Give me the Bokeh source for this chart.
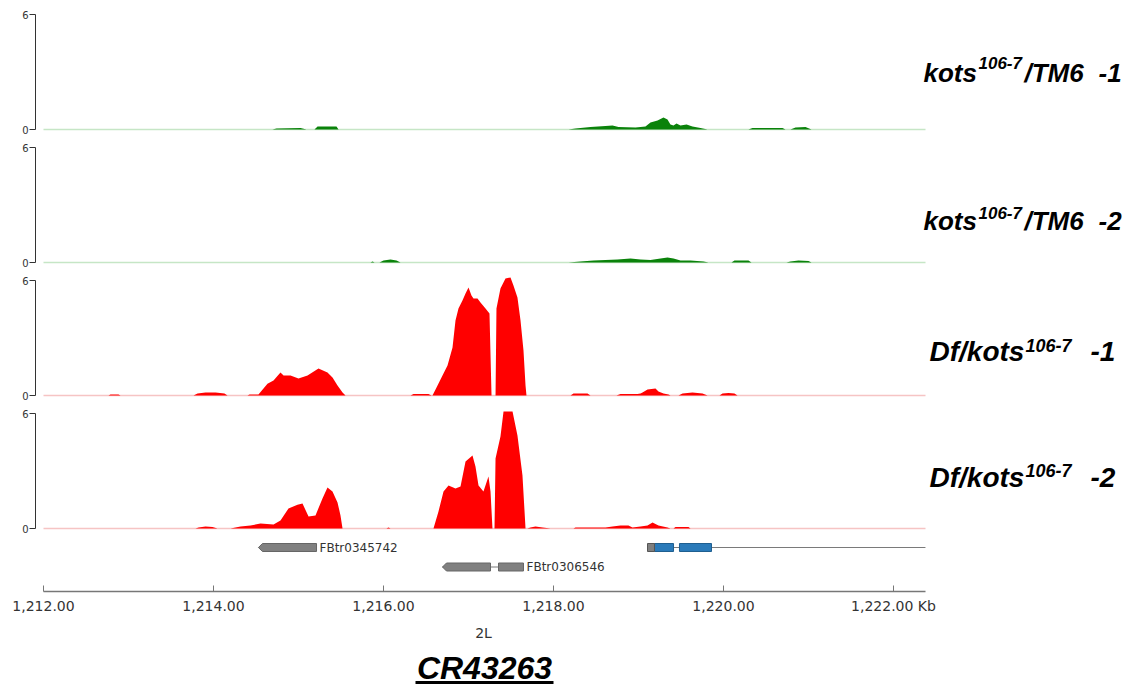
from bokeh.plotting import figure
from bokeh.layouts import column
from bokeh.models import Range1d, FixedTicker
from bokeh.core.properties import value
from bokeh.embed import file_html
from bokeh.resources import INLINE

# ---------------- data (positions in kb on chromosome 2L, coverage values) ----------------
t1_pos = [1214.694, 1214.741, 1215.024, 1215.094,
          1215.188, 1215.224, 1215.447, 1215.471,
          1218.176, 1218.259, 1218.435, 1218.612, 1218.694, 1218.765, 1218.965, 1219.082, 1219.141, 1219.224,
          1219.294, 1219.341, 1219.376, 1219.412, 1219.447, 1219.494, 1219.565, 1219.635, 1219.729, 1219.812,
          1220.294, 1220.341, 1220.694, 1220.729,
          1220.788, 1220.847, 1220.965, 1221.035]
t1_cov = [0, 0.05, 0.08, 0,
          0, 0.16, 0.16, 0,
          0, 0.05, 0.13, 0.18, 0.21, 0.13, 0.10, 0.16, 0.37, 0.47,
          0.63, 0.52, 0.26, 0.21, 0.31, 0.21, 0.26, 0.16, 0.08, 0,
          0, 0.08, 0.08, 0,
          0, 0.10, 0.13, 0]

t2_pos = [1215.847, 1215.871, 1215.894,
          1215.953, 1216.0, 1216.082, 1216.153, 1216.2,
          1218.176, 1218.318, 1218.471, 1218.612, 1218.753, 1218.906, 1219.024, 1219.141, 1219.259, 1219.341,
          1219.412, 1219.494, 1219.612, 1219.765, 1219.824,
          1220.094, 1220.129, 1220.294, 1220.329,
          1220.741, 1220.788, 1220.882, 1221.0, 1221.035]
t2_cov = [0, 0.05, 0,
          0, 0.10, 0.16, 0.10, 0,
          0, 0.05, 0.10, 0.13, 0.16, 0.21, 0.16, 0.13, 0.21, 0.26,
          0.21, 0.10, 0.10, 0.05, 0,
          0, 0.10, 0.10, 0,
          0, 0.05, 0.10, 0.08, 0]

t3_pos = [1212.765, 1212.788, 1212.882, 1212.906,
          1213.765, 1213.812, 1213.906, 1214.024, 1214.129, 1214.165,
          1214.4, 1214.424, 1214.529, 1214.635, 1214.706, 1214.788, 1214.824, 1214.906, 1215.0, 1215.106,
          1215.235, 1215.341, 1215.4, 1215.459, 1215.518, 1215.553,
          1216.318, 1216.353, 1216.529, 1216.565,
          1216.576, 1216.612, 1216.694, 1216.753, 1216.812, 1216.847, 1216.882, 1216.929, 1216.965, 1217.0,
          1217.035, 1217.059, 1217.106, 1217.141, 1217.2, 1217.247, 1217.271,
          1217.318, 1217.329, 1217.376, 1217.435, 1217.494, 1217.529, 1217.576, 1217.612, 1217.647, 1217.671, 1217.682,
          1218.2, 1218.235, 1218.4, 1218.435,
          1218.741, 1218.788, 1218.988, 1219.024, 1219.047, 1219.106, 1219.2, 1219.235, 1219.294, 1219.353, 1219.376,
          1219.471, 1219.518, 1219.635, 1219.753, 1219.812,
          1219.953, 1219.988, 1220.059, 1220.129, 1220.165]
t3_cov = [0, 0.05, 0.05, 0,
          0, 0.10, 0.16, 0.16, 0.10, 0,
          0, 0.05, 0.05, 0.61, 0.78, 1.20, 1.04, 1.04, 0.89, 1.04,
          1.41, 1.20, 0.94, 0.52, 0.16, 0,
          0, 0.08, 0.08, 0,
          0, 0.31, 1.04, 1.57, 2.50, 3.91, 4.54, 4.96, 5.32, 5.63,
          5.22, 5.06, 5.06, 4.85, 4.54, 4.28, 0,
          0, 4.54, 5.58, 6.10, 6.16, 5.74, 5.11, 3.91, 2.35, 0.52, 0,
          0, 0.10, 0.10, 0,
          0, 0.08, 0.08, 0.10, 0.16, 0.31, 0.37, 0.21, 0.10, 0.05, 0,
          0, 0.10, 0.16, 0.10, 0,
          0, 0.10, 0.13, 0.10, 0]

t4_pos = [1213.788, 1213.824, 1213.906, 1213.988, 1214.047,
          1214.2, 1214.318, 1214.435, 1214.553, 1214.706, 1214.788, 1214.882, 1214.988, 1215.047, 1215.118,
          1215.2, 1215.282, 1215.341, 1215.4, 1215.459, 1215.494, 1215.518,
          1216.035, 1216.059, 1216.082,
          1216.588, 1216.647, 1216.706, 1216.765, 1216.847, 1216.906, 1216.965, 1217.047, 1217.082, 1217.118,
          1217.176, 1217.235, 1217.259, 1217.282,
          1217.306, 1217.318, 1217.376, 1217.412, 1217.518, 1217.576, 1217.635, 1217.671,
          1217.694, 1217.729, 1217.788, 1217.871, 1217.965,
          1218.235, 1218.259, 1218.612, 1218.694, 1218.788, 1218.882, 1218.929, 1219.024, 1219.106, 1219.165,
          1219.235, 1219.341, 1219.376,
          1219.412, 1219.435, 1219.588, 1219.612]
t4_cov = [0, 0.05, 0.10, 0.08, 0,
          0, 0.10, 0.16, 0.26, 0.21, 0.42, 1.04, 1.24, 1.30, 0.63,
          0.68, 1.57, 2.14, 1.93, 1.36, 0.68, 0,
          0, 0.05, 0,
          0, 0.89, 1.93, 2.24, 2.09, 2.19, 3.50, 3.81, 3.23, 2.24,
          1.93, 2.71, 1.93, 0,
          0, 3.65, 4.80, 6.10, 6.10, 4.85, 2.76, 0,
          0, 0.05, 0.10, 0.05, 0,
          0, 0.05, 0.05, 0.10, 0.16, 0.16, 0.05, 0.10, 0.16, 0.31,
          0.16, 0.05, 0,
          0, 0.08, 0.08, 0]

# gene models
gene_names = ["FBtr0345742", "FBtr0306546", ""]
gene_rows = [0, 1, 0]
gene_starts = [1214.529, 1216.694, 1219.106]
gene_ends = [1215.212, 1217.647, 1222.376]
gene_exons = [[(1214.529, 1215.212)],
              [(1216.694, 1217.259), (1217.353, 1217.647)],
              [(1219.188, 1219.412), (1219.482, 1219.859)]]
gene_utrs = [[], [], [(1219.106, 1219.188)]]
gene_colors = ["#808080", "#808080", "#2a7ab9"]

tick_values = [1212, 1214, 1216, 1218, 1220, 1222]
tick_labels = ["1,212.00", "1,214.00", "1,216.00", "1,218.00", "1,220.00", "1,222.00 Kb"]
chrom_label = "2L"
title_text = "CR43263"

# ---------------- layout helpers ----------------
PX_KB = 85.0
LEFT = 35
X0 = 1212.0 - 8 / PX_KB
XR = Range1d(X0, X0 + 1101 / PX_KB)
VIEW_END = 1212.0 + 882 / PX_KB
PXU = 115 / 6.0
Y_TOP = 6 + 6 / PXU
Y_BOT = -(133 - 121) / PXU


def xv(px):
    return 1212.0 + (px - 43) / PX_KB


def yv(off):
    return Y_TOP - off / PXU


def base_fig(height, yr, top=0, bottom=0, **kw):
    p = figure(width=LEFT + 1101, height=height, x_range=XR, y_range=yr,
               output_backend="svg", toolbar_location=None,
               min_border_left=LEFT, min_border_right=0, min_border_top=top,
               min_border_bottom=bottom, **kw)
    p.outline_line_color = None
    p.grid.visible = False
    p.background_fill_color = "white"
    p.border_fill_color = "white"
    return p


def track(pos, cov, fill, base, pieces, top=0):
    p = base_fig(133 + top, Range1d(Y_BOT, Y_TOP), top=top, x_axis_location=None, y_axis_location="left")
    ax = p.yaxis[0]
    ax.ticker = FixedTicker(ticks=[0, 6])
    ax.bounds = (0, 6)
    ax.major_tick_in = 0
    ax.major_tick_out = 6
    ax.minor_tick_in = 0
    ax.minor_tick_out = 0
    ax.major_label_standoff = 1
    ax.axis_line_color = "#333333"
    ax.major_tick_line_color = "#333333"
    ax.major_label_text_font = "DejaVu Sans"
    ax.major_label_text_font_size = "10px"
    ax.major_label_text_color = "#333333"
    p.line(x=[1212.0, VIEW_END], y=[0, 0], line_color=base, line_width=1.5)
    p.varea(x=pos, y1=[0] * len(pos), y2=cov, fill_color=fill)
    for txt, px, off, size in pieces:
        p.text(x=[xv(px)], y=[yv(off)], text=[txt],
               text_font=value("Liberation Sans"), text_font_style="bold italic",
               text_font_size=f"{size}px", text_baseline="middle",
               text_align="left", text_color="black")
    return p


GREEN, RED = "#0a820a", "#ff0000"
p1 = track(t1_pos, t1_cov, GREEN, "#c6e6c6",
           [("kots", 923, 64.5, 26), ("106-7", 978, 54.5, 17), ("/TM6", 1024, 64.5, 26), ("-1", 1098, 64.5, 26)],
           top=8)
p2 = track(t2_pos, t2_cov, GREEN, "#c6e6c6",
           [("kots", 923, 79.5, 26), ("106-7", 978, 71, 17), ("/TM6", 1024, 79.5, 26), ("-2", 1098, 79.5, 26)])
p3 = track(t3_pos, t3_cov, RED, "#f6c4c4",
           [("Df/kots", 929, 76.5, 28), ("106-7", 1025, 71, 18), ("-1", 1090, 76.5, 28)])
p4 = track(t4_pos, t4_cov, RED, "#f6c4c4",
           [("Df/kots", 929, 70, 28), ("106-7", 1025, 63, 18), ("-2", 1090, 70, 28)])

# ---------------- gene model + genomic axis ----------------
g = base_fig(81, Range1d(0, 51), bottom=30, x_axis_location="below", y_axis_location=None)
ROW_Y = [44, 24.5]
H = 4
for name, row, s, e, exons, utrs, col in zip(gene_names, gene_rows, gene_starts, gene_ends,
                                              gene_exons, gene_utrs, gene_colors):
    yc = ROW_Y[row]
    g.line(x=[s, e], y=[yc, yc], line_color="#7a7a7a", line_width=1)
    for (a, b) in exons:
        if a == s:  # minus-strand arrow tip at left end
            tip = 4 / PX_KB
            g.patch(x=[a, a + tip, b, b, a + tip], y=[yc, yc + H, yc + H, yc - H, yc - H],
                    fill_color=col, line_color="#666666", line_width=1)
        else:
            g.quad(left=[a], right=[b], bottom=[yc - H], top=[yc + H],
                   fill_color=col, line_color="#666666" if col == "#808080" else "#1f5f90", line_width=1)
    for (a, b) in utrs:
        g.quad(left=[a], right=[b], bottom=[yc - H], top=[yc + H],
               fill_color="#7f7f7f", line_color="#555555", line_width=1)
    if name:
        g.text(x=[e + 3 / PX_KB], y=[yc], text=[name], text_font=value("DejaVu Sans"),
               text_font_size="12px", text_baseline="middle", text_align="left", text_color="#333333")

xa = g.xaxis[0]
xa.ticker = FixedTicker(ticks=tick_values)
xa.major_label_overrides = {v: l for v, l in zip(tick_values, tick_labels)}
xa.bounds = (1212.0, VIEW_END)
xa.major_tick_in = 6
xa.major_tick_out = 0
xa.minor_tick_in = 0
xa.minor_tick_out = 0
xa.major_label_standoff = 6
xa.axis_line_color = "#777777"
xa.axis_line_width = 1.5
xa.major_tick_line_color = "#777777"
xa.major_label_text_font = "DejaVu Sans"
xa.major_label_text_font_size = "14px"
xa.major_label_text_color = "#333333"

# ---------------- chromosome + title ----------------
T_H = 68
t = base_fig(T_H, Range1d(0, T_H), x_axis_location=None, y_axis_location=None)
t.text(x=[xv(483)], y=[T_H - 11], text=[chrom_label], text_font=value("DejaVu Sans"), text_font_size="14px",
       text_baseline="middle", text_align="center", text_color="#333333")
t.text(x=[xv(484)], y=[T_H - 46.5], text=[title_text], text_font=value("Liberation Sans"),
       text_font_style="bold italic", text_font_size="32px", text_baseline="middle",
       text_align="center", text_color="black")
t.line(x=[xv(415), xv(553)], y=[T_H - 61, T_H - 61], line_color="black", line_width=3)

layout = column(p1, p2, p3, p4, g, t, spacing=0)
open("out.html", "w").write(file_html(layout, INLINE))
